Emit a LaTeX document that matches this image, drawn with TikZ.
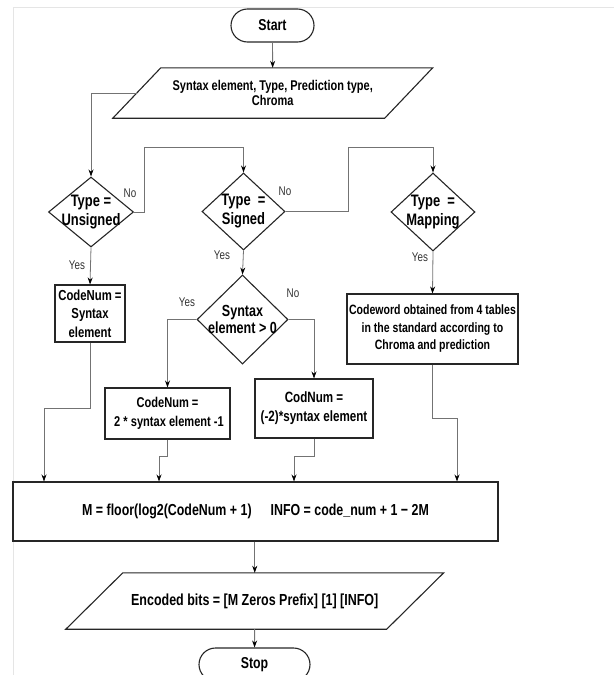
\documentclass[tikz,border=0pt]{standalone}
\usepackage{fontspec}
\setmainfont{Liberation Sans}[FakeStretch=0.78]
\usetikzlibrary{shapes.geometric,arrows.meta}

\newcommand\fsz[2]{\fontsize{#1}{#2}\selectfont}

\tikzset{
  shapeline/.style={draw=black!85, line width=1.1pt},
  terminal/.style={shapeline, rectangle, rounded corners=16.5pt, minimum height=33pt,
    inner sep=0pt, font=\bfseries\fsz{15.8}{17}},
  % slanted input/output box: the node is the mid-height rectangle,
  % the outline is sheared by #1 on each side
  iobox/.style={rectangle, inner sep=0pt, align=center,
    append after command={
      \pgfextra{\draw[shapeline]
        ([xshift=#1]\tikzlastnode.north west) -- ([xshift=#1]\tikzlastnode.north east)
        -- ([xshift=-#1]\tikzlastnode.south east) -- ([xshift=-#1]\tikzlastnode.south west)
        -- cycle;}}},
  procbox/.style={shapeline, rectangle, inner sep=0pt, align=center},
  decision/.style={shapeline, diamond, inner sep=0pt},
  dtext/.style={align=center, inner sep=0pt},
  conn/.style={draw=black!55, line width=0.8pt},
  arr/.style={conn, -{Stealth[length=7pt,width=5pt,black]}},
  yn/.style={inner sep=0pt, text=black!80, font=\fsz{12.6}{14}},
  frameline/.style={draw=black!10, line width=0.6pt}
}

\begin{document}
\begin{tikzpicture}[x=1pt,y=-1pt]
  \clip (0,0) rectangle (614,675);

  % faint page frame
  \draw[frameline] (614,7) -- (13,7) -- (13,675);

  % terminals and input/output
  \node[terminal, minimum width=83pt] (start) at (272.5,25.5) {Start};
  \node[iobox=24pt, minimum width=271.5pt, minimum height=50pt,
        font=\bfseries\fsz{14.1}{15.5}] (in) at (272.75,93)
        {Syntax element, Type, Prediction type,\\Chroma};

  % type decisions
  \node[decision, minimum width=85pt, minimum height=70pt,
        label={[dtext, font=\bfseries\fsz{16.6}{19}]center:{Type =\\Unsigned}}]
        (dU) at (91,212) {};
  \node[decision, minimum width=83pt, minimum height=77pt,
        label={[dtext, font=\bfseries\fsz{16.6}{19}]center:{Type \ =\\Signed}}]
        (dS) at (243.5,211.5) {};
  \node[decision, minimum width=84pt, minimum height=78pt,
        label={[dtext, font=\bfseries\fsz{16.6}{19}]center:{Type \ =\\Mapping}}]
        (dM) at (433,212) {};
  \node[decision, minimum width=91pt, minimum height=89pt,
        label={[dtext, font=\bfseries\fsz{16.1}{17.5}]center:{Syntax\\element > 0}}]
        (dG) at (242.5,319.5) {};

  % code number boxes
  \node[procbox, minimum width=70pt, minimum height=57pt,
        font=\bfseries\fsz{14.5}{18.5}] (cU) at (90,313.5)
        {CodeNum =\\Syntax\\element};
  \node[procbox, minimum width=125pt, minimum height=51pt,
        font=\bfseries\fsz{14.2}{19}] (cP) at (167.5,413.5)
        {CodeNum =\\\ 2 * syntax element -1};
  \node[procbox, minimum width=118pt, minimum height=59pt,
        font=\bfseries\fsz{14.9}{19}] (cN) at (314,408.5)
        {CodNum =\\(-2)*syntax element};
  \node[procbox, minimum width=171pt, minimum height=70pt,
        font=\bfseries\fsz{13.5}{17.5}] (cM) at (432.5,329)
        {Codeword obtained from 4 tables\\in the standard according to\\Chroma and prediction};

  % common computation, output, stop
  \node[procbox, minimum width=485pt, minimum height=59pt,
        font=\bfseries\fsz{15.9}{18}] (calc) at (255.5,511.5)
        {M = floor(log2(CodeNum + 1)\hspace{19pt}INFO = code\_num + 1 − 2M};
  \node[iobox=28.5pt, minimum width=320.5pt, minimum height=56pt,
        font=\bfseries\fsz{16}{18}] (out) at (254.75,601)
        {Encoded bits = [M Zeros Prefix] [1] [INFO]};
  \node[terminal, minimum width=111pt] (stop) at (254.5,664.5) {Stop};

  % connectors
  \draw[arr] (start) -- (in);
  \draw[arr] (in.west) -| (dU.north);
  \draw[arr] (dU.east) -- ++(10,0) |- ([yshift=25pt]dS.north) -- (dS.north);
  \draw[arr] (dS.east) -- ++(63,0) |- ([yshift=25pt]dM.north) -- (dM.north);
  \draw[arr] (dU.south) -- (cU.north);
  \draw[arr] (dS.south) -- (dG.north);
  \draw[arr] (dM.south) -- (cM.north);
  \draw[arr] (dG.west) -| (cP.north);
  \draw[arr] (dG.east) -| (cN.north);

  \draw[arr] (cU.south) -- ++(0,66) -| ([xshift=-211.5pt]calc.north);
  \draw[arr] (cP.south) -- ++(0,17) -| ([xshift=-96.5pt]calc.north);
  \draw[arr] (cN.south) -- ++(0,18) -| ([xshift=38.5pt]calc.north);
  \draw[arr] (cM.south) -- ++(0,54) -| ([xshift=201.5pt]calc.north);

  \draw[arr] (calc.south -| out.north) -- (out.north);
  \draw[arr] (out) -- (stop);

  % branch labels
  \node[yn] (noU)  at (130,193) {No};
  \node[yn] (noS)  at (285,191) {No};
  \node[yn] (noG)  at (293,293) {No};
  \node[yn] (yesU) at (77,265)  {Yes};
  \node[yn] (yesS) at (222,255) {Yes};
  \node[yn] (yesM) at (420,257) {Yes};
  \node[yn] (yesG) at (187,302) {Yes};
\end{tikzpicture}
\end{document}
